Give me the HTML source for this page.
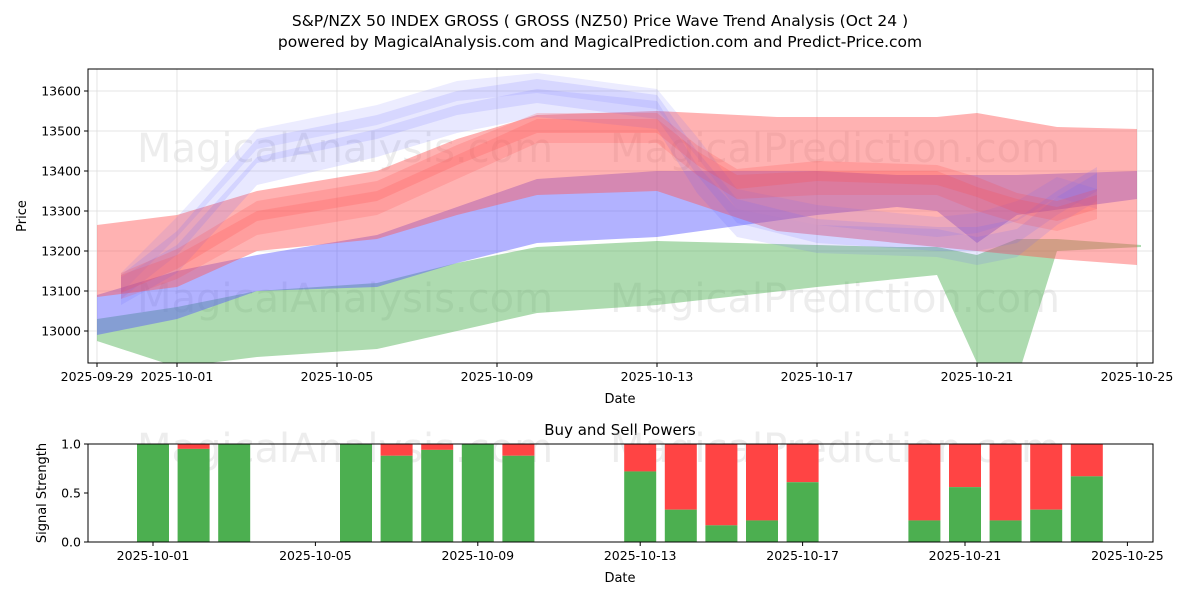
<!DOCTYPE html>
<html><head><meta charset="utf-8"><style>
body{margin:0;background:#fff;font-family:"Liberation Sans","DejaVu Sans",sans-serif}
svg text{font-family:"DejaVu Sans","Liberation Sans",sans-serif}
</style></head><body>
<svg id="c" width="1200" height="600" viewBox="0 0 1200 600" xmlns="http://www.w3.org/2000/svg">
<rect width="1200" height="600" fill="#fff"/>
<text x="600" y="26" font-size="15.5" text-anchor="middle">S&amp;P/NZX 50 INDEX GROSS ( GROSS  (NZ50) Price Wave Trend Analysis (Oct 24 )</text>
<text x="600" y="47" font-size="15.5" text-anchor="middle">powered by MagicalAnalysis.com and MagicalPrediction.com and Predict-Price.com</text>
<g id="topg"></g>
<g id="bot"></g>
</svg>
<script>
// ---- price data (day offset from 2025-09-29) ----
const greenDays=[0,2,4,7,9,11,14,18,20,21,22,23,24,26.1];
const greenUpper=[13030,13060,13100,13120,13170,13210,13225,13215,13210,13210,13190,13230,13230,13215];
const greenLower=[12975,12910,12935,12955,13000,13045,13065,13110,13130,13140,12920,12880,13200,13210];
const blueDays=[0,2,4,7,9,11,14,18,20,21,22,23,26];
const blueUpper=[13090,13150,13190,13240,13310,13380,13400,13400,13390,13390,13390,13390,13400];
const blueLower=[12990,13030,13100,13110,13170,13220,13235,13290,13310,13300,13220,13290,13330];
const redDays=[0,2,4,7,9,11,14,17,21,22,24,26];
const redUpper=[13265,13290,13350,13400,13480,13540,13550,13535,13535,13545,13510,13505];
const redLower=[13085,13110,13200,13230,13290,13340,13350,13250,13210,13200,13180,13165];
const waveDays=[0.6,2,4,7,9,11,14,15,16,18,21,22,23,24,25];
const waveBlue1=[13110,13220,13450,13510,13570,13600,13560,13420,13300,13250,13230,13230,13250,13320,13380];
const waveBlue2=[13100,13180,13400,13470,13530,13570,13540,13380,13270,13230,13220,13200,13220,13300,13360];
const waveBlue3=[13120,13260,13480,13540,13600,13620,13580,13460,13330,13290,13260,13270,13300,13360,13330];
const waveRed1=[13120,13180,13300,13350,13440,13520,13520,13440,13380,13400,13390,13360,13320,13300,13330];
const waveRed2=[13110,13160,13270,13320,13410,13500,13500,13420,13360,13370,13370,13330,13300,13280,13310];
const yTicks=[13000,13100,13200,13300,13400,13500,13600];
const xTickDays=[0,2,6,10,14,18,22,26];
const xTickLabels=["2025-09-29","2025-10-01","2025-10-05","2025-10-09","2025-10-13","2025-10-17","2025-10-21","2025-10-25"];
// ---- signal data ----
const barDays=[2,3,4,7,8,9,10,11,14,15,16,17,18,21,22,23,24,25];
const buyPower=[1.0,0.95,1.0,1.0,0.88,0.94,1.0,0.88,0.72,0.33,0.17,0.22,0.61,0.22,0.56,0.22,0.33,0.67];
const sigTicks=[0,0.5,1.0];
const sigXDays=[2,6,10,14,18,22,26];
const sigXLabels=["2025-10-01","2025-10-05","2025-10-09","2025-10-13","2025-10-17","2025-10-21","2025-10-25"];

const NS="http://www.w3.org/2000/svg";
const L=88,R=1153,T=69,B=363;
const xs=d=>97+40*d;
const xb=d=>153+40.6*(d-2);
const ys=v=>331-(v-13000)*0.4;
const bT=444,bB=542;
const ysb=v=>bB-v*(bB-bT);
function mk(p,tag,at,txt){const e=document.createElementNS(NS,tag);for(const k in at)e.setAttribute(k,at[k]);if(txt!=null)e.textContent=txt;p.appendChild(e);return e;}
const topG=document.getElementById('topg'),bot=document.getElementById('bot');
const clip=mk(topG,'clipPath',{id:'cp'});mk(clip,'rect',{x:L,y:T,width:R-L,height:B-T});
const grid=mk(topG,'g',{});


yTicks.forEach(v=>mk(grid,'line',{x1:L,x2:R,y1:ys(v),y2:ys(v),stroke:'#ddd','stroke-width':0.8}));
xTickDays.forEach(d=>mk(grid,'line',{x1:xs(d),x2:xs(d),y1:T,y2:B,stroke:'#ddd','stroke-width':0.8}));
[[345,162],[835,162],[345,312],[835,312]].forEach((p,i)=>{const t=mk(topG,'text',{x:p[0],y:p[1],'font-size':40,fill:'#ccc','fill-opacity':0.35,'text-anchor':'middle'},i%2?'MagicalPrediction.com':'MagicalAnalysis.com');});
const g=mk(topG,'g',{'clip-path':'url(#cp)'});
function band(days,up,lo,col,op,name){let pts=days.map((d,i)=>xs(d)+','+ys(up[i]));for(let i=days.length-1;i>=0;i--)pts.push(xs(days[i])+','+ys(lo[i]));const p=mk(g,'polygon',{points:pts.join(' '),fill:col,'fill-opacity':op});}
function wave(vals,hw,col,op,name){band(waveDays,vals.map(v=>v+hw),vals.map(v=>v-hw),col,op,name);}
band(greenDays,greenUpper,greenLower,'#4caf50',0.45,'green-band');
band(blueDays,blueUpper,blueLower,'#5555ff',0.45,'blue-band');
band(redDays,redUpper,redLower,'#ff5555',0.45,'red-band');
wave(waveBlue1,30,'#6666ff',0.15,'blue-wave');
wave(waveBlue2,35,'#6666ff',0.15,'blue-wave');
wave(waveBlue3,25,'#6666ff',0.12,'blue-wave');
wave(waveRed1,25,'#ff4444',0.2,'red-wave');
wave(waveRed2,30,'#ff4444',0.18,'red-wave');
mk(topG,'rect',{x:L,y:T,width:R-L,height:B-T,fill:'none',stroke:'#000','stroke-width':1});
yTicks.forEach(v=>{mk(topG,'line',{x1:L-4,x2:L,y1:ys(v),y2:ys(v),stroke:'#000'});const t=mk(topG,'text',{x:L-7,y:ys(v)+4.5,'font-size':12.5,'text-anchor':'end'},v);});
xTickDays.forEach((d,i)=>{mk(topG,'line',{x1:xs(d),x2:xs(d),y1:B,y2:B+4,stroke:'#000'});const t=mk(topG,'text',{x:xs(d),y:B+18,'font-size':12.5,'text-anchor':'middle'},xTickLabels[i]);});
mk(topG,'text',{x:620,y:403,'font-size':13,'text-anchor':'middle',},'Date');
mk(topG,'text',{x:26,y:216,'font-size':13,'text-anchor':'middle',transform:'rotate(-90 26 216)',},'Price');
mk(bot,'text',{x:620,y:435,'font-size':15,'text-anchor':'middle',},'Buy and Sell Powers');
[[345,462],[835,462]].forEach((p,i)=>{const t=mk(bot,'text',{x:p[0],y:p[1],'font-size':40,fill:'#ccc','fill-opacity':0.35,'text-anchor':'middle'},i?'MagicalPrediction.com':'MagicalAnalysis.com');});
barDays.forEach((d,i)=>{const x=xb(d)-16;const gy=ysb(buyPower[i]);
const r=mk(bot,'rect',{x:x,y:bT,width:32,height:gy-bT,fill:'#ff4444'});
const b=mk(bot,'rect',{x:x,y:gy,width:32,height:bB-gy,fill:'#4caf50'});});
mk(bot,'rect',{x:L,y:bT,width:R-L,height:bB-bT,fill:'none',stroke:'#000'});
sigTicks.forEach(v=>{mk(bot,'line',{x1:L-4,x2:L,y1:ysb(v),y2:ysb(v),stroke:'#000'});const t=mk(bot,'text',{x:L-7,y:ysb(v)+4.5,'font-size':12.5,'text-anchor':'end'},v.toFixed(1));});
sigXDays.forEach((d,i)=>{mk(bot,'line',{x1:xb(d),x2:xb(d),y1:bB,y2:bB+4,stroke:'#000'});const t=mk(bot,'text',{x:xb(d),y:bB+18,'font-size':12.5,'text-anchor':'middle'},sigXLabels[i]);});
mk(bot,'text',{x:620,y:582,'font-size':13,'text-anchor':'middle',},'Date');
mk(bot,'text',{x:46,y:493,'font-size':13,'text-anchor':'middle',transform:'rotate(-90 46 493)',},'Signal Strength');
</script>
</body></html>
